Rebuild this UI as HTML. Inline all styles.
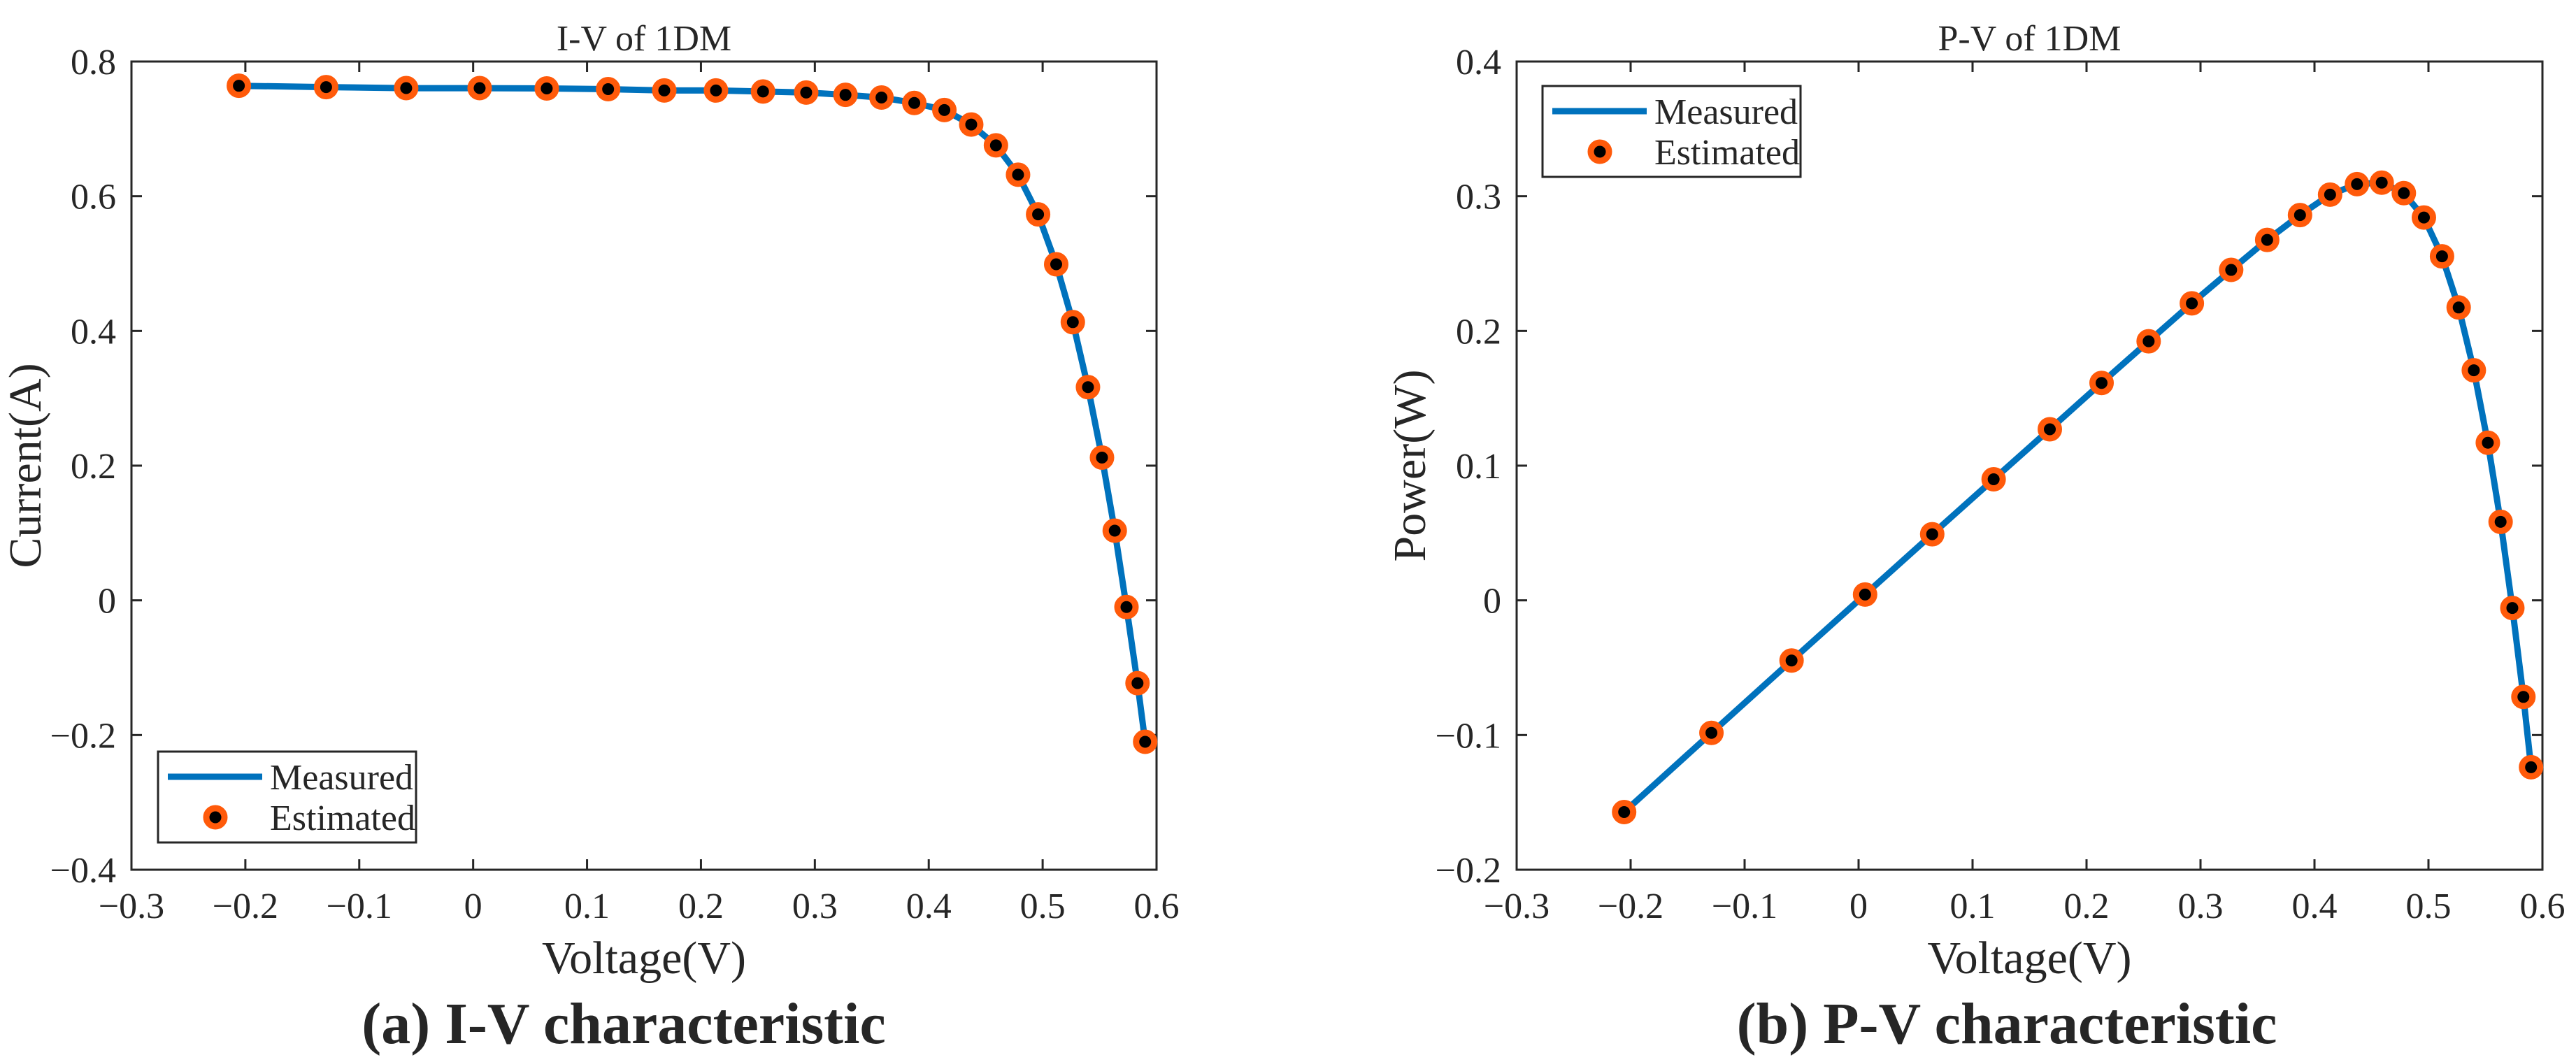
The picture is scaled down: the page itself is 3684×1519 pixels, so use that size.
<!DOCTYPE html>
<html><head><meta charset="utf-8"><style>
html,body{margin:0;padding:0;background:#fff;}
svg{display:block;}
text{font-family:"Liberation Serif",serif;fill:#262626;}
</style></head><body>
<svg id="fig" width="3684" height="1519" viewBox="0 0 3684 1519" xmlns="http://www.w3.org/2000/svg"></svg>
<script>
const voltage = [-0.2057,-0.1291,-0.0588,0.0057,0.0646,0.1185,0.1678,0.2132,0.2545,0.2924,0.3269,0.3585,0.3873,0.4137,0.4373,0.4590,0.4784,0.4960,0.5119,0.5265,0.5398,0.5521,0.5633,0.5736,0.5833,0.5900];
const current = [0.7640,0.7620,0.7605,0.7605,0.7600,0.7590,0.7570,0.7570,0.7555,0.7540,0.7505,0.7465,0.7385,0.7280,0.7065,0.6755,0.6320,0.5730,0.4990,0.4130,0.3165,0.2120,0.1035,-0.0100,-0.1230,-0.2100];
const power = [-0.1572,-0.0984,-0.0447,0.0043,0.0491,0.0899,0.1270,0.1614,0.1923,0.2205,0.2453,0.2676,0.2860,0.3012,0.3090,0.3101,0.3023,0.2842,0.2554,0.2174,0.1708,0.1170,0.0583,-0.0057,-0.0717,-0.1239];
const xTicks = [-0.3,-0.2,-0.1,0,0.1,0.2,0.3,0.4,0.5,0.6];
const xTickLabels = ["\u22120.3","\u22120.2","\u22120.1","0","0.1","0.2","0.3","0.4","0.5","0.6"];
const ivTicks = [-0.4,-0.2,0,0.2,0.4,0.6,0.8];
const ivTickLabels = ["\u22120.4","\u22120.2","0","0.2","0.4","0.6","0.8"];
const pvTicks = [-0.2,-0.1,0,0.1,0.2,0.3,0.4];
const pvTickLabels = ["\u22120.2","\u22120.1","0","0.1","0.2","0.3","0.4"];

const NS="http://www.w3.org/2000/svg";
const svg=document.getElementById('fig');
function mk(tag,attrs,parent){const e=document.createElementNS(NS,tag);for(const k in attrs)e.setAttribute(k,attrs[k]);(parent||svg).appendChild(e);return e;}

function panel(o){
  const g=mk('g',{});
  
  
  const X0=o.x0,X1=o.x1,Y0=88,Y1=1244;
  const sx=v=>X0+(v-(-0.3))/(0.9)*(X1-X0);
  const sy=v=>Y1-(v-o.ymin)/(o.ymax-o.ymin)*(Y1-Y0);
  const frame=mk('rect',{x:X0,y:Y0,width:X1-X0,height:Y1-Y0,fill:'none',stroke:'#262626','stroke-width':3},g);
  
  
  xTicks.forEach((t,i)=>{
    const x=sx(t);
    mk('line',{x1:x,y1:Y1,x2:x,y2:Y1-15,stroke:'#262626','stroke-width':3},g);
    mk('line',{x1:x,y1:Y0,x2:x,y2:Y0+15,stroke:'#262626','stroke-width':3},g);
    const tx=mk('text',{x:x,y:1313,'font-size':52,'text-anchor':'middle'},g);
    tx.textContent=xTickLabels[i];
    
    
  });
  o.yt.forEach((t,i)=>{
    const y=sy(t);
    mk('line',{x1:X0,y1:y,x2:X0+15,y2:y,stroke:'#262626','stroke-width':3},g);
    mk('line',{x1:X1,y1:y,x2:X1-15,y2:y,stroke:'#262626','stroke-width':3},g);
    const tx=mk('text',{x:X0-22,y:y+18,'font-size':52,'text-anchor':'end'},g);
    tx.textContent=o.ytl[i];
    
    
  });
  const pts=voltage.map((v,i)=>sx(v).toFixed(1)+','+sy(o.ys[i]).toFixed(1)).join(' ');
  const line=mk('polyline',{points:pts,fill:'none',stroke:'#0072BD','stroke-width':9,'stroke-linejoin':'round'},g);
  
  
  voltage.forEach((v,i)=>{
    const c=mk('circle',{cx:sx(v),cy:sy(o.ys[i]),r:13,fill:'#000',stroke:'#FF5A0A','stroke-width':9},g);
    
    
  });
  const title=mk('text',{x:(X0+X1)/2,y:72,'font-size':52,'text-anchor':'middle'},g);
  title.textContent=o.title;
  
  
  const xl=mk('text',{x:(X0+X1)/2,y:1392,'font-size':66,'text-anchor':'middle'},g);
  xl.textContent='Voltage(V)';
  
  
  const yl=mk('text',{x:0,y:0,'font-size':66,'text-anchor':'middle',transform:`translate(${o.ylx},666) rotate(-90)`},g);
  yl.textContent=o.ylabel;
  
  
  const cap=mk('text',{x:o.capx,y:1492,'font-size':84,'font-weight':'bold','text-anchor':'middle',fill:'#000'},g);
  cap.textContent=o.caption;
  
  
  const L=o.leg;
  const lg=mk('g',{},g);
  
  
  mk('rect',{x:L.x,y:L.y,width:369,height:130,fill:'#fff',stroke:'#262626','stroke-width':3},lg);
  mk('line',{x1:L.x+14,y1:L.y+36,x2:L.x+149,y2:L.y+36,stroke:'#0072BD','stroke-width':9},lg);
  mk('circle',{cx:L.x+82,cy:L.y+94,r:13,fill:'#000',stroke:'#FF5A0A','stroke-width':9},lg);
  const t1=mk('text',{x:L.x+160,y:L.y+54,'font-size':52,fill:'#000'},lg);t1.textContent='Measured';
  
  
  const t2=mk('text',{x:L.x+160,y:L.y+112,'font-size':52,fill:'#000'},lg);t2.textContent='Estimated';
  
  
}
panel({name:'iv-chart',x0:188,x1:1654,ymin:-0.4,ymax:0.8,yt:ivTicks,ytl:ivTickLabels,ys:current,title:'I-V of 1DM',ylabel:'Current(A)',ylx:58,caption:'(a) I-V characteristic',capx:892,leg:{x:226,y:1075}});
panel({name:'pv-chart',x0:2169,x1:3636,ymin:-0.2,ymax:0.4,yt:pvTicks,ytl:pvTickLabels,ys:power,title:'P-V of 1DM',ylabel:'Power(W)',ylx:2038,caption:'(b) P-V characteristic',capx:2870,leg:{x:2206,y:123}});
</script>
</body></html>
